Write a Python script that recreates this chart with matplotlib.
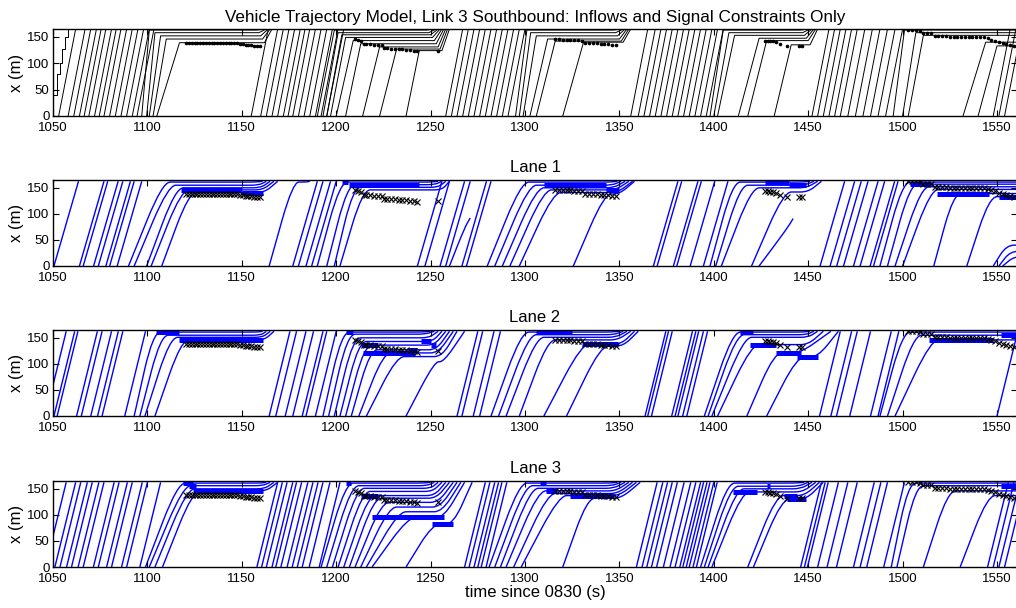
import numpy as np
import matplotlib
matplotlib.use("Agg")
import matplotlib.pyplot as plt
from matplotlib.path import Path
from matplotlib.patches import PathPatch
from matplotlib.collections import LineCollection

plt.rcParams['font.family'] = ['Liberation Sans', 'DejaVu Sans']

# ---------------- data ----------------
TITLE = "Vehicle Trajectory Model, Link 3 Southbound: Inflows and Signal Constraints Only"
LANE_TITLES = ["Lane 1", "Lane 2", "Lane 3"]
XTICKS = [1050, 1100, 1150, 1200, 1250, 1300, 1350, 1400, 1450, 1500, 1550]
YTICKS = [0, 50, 100, 150]

# shared observed queue positions (dots in top panel, x in lane panels)
MK_T = [1120.5, 1122, 1123.5, 1125, 1126.5, 1128, 1129.5, 1131, 1132.5, 1134, 1135.5, 1137, 1138.5,
        1140, 1141.5, 1143, 1144.5, 1146, 1147.5, 1149, 1150.5, 1152, 1153.5, 1155, 1156.5, 1158, 1159.5,
        1210, 1211.5, 1213, 1214.5, 1216, 1218, 1220, 1222, 1224, 1225.5, 1227, 1229, 1231, 1233, 1235,
        1237, 1239, 1241, 1243, 1253.7,
        1316, 1318, 1320, 1322, 1324, 1326, 1328, 1330, 1332, 1334, 1336, 1338, 1340, 1342, 1344, 1346, 1348,
        1427, 1428.5, 1430, 1431.5, 1433, 1435, 1438.6, 1445, 1446.5,
        1503, 1505, 1507, 1509, 1511, 1513, 1515, 1517, 1519, 1521, 1523, 1525, 1527, 1529, 1531, 1533,
        1535, 1537, 1539, 1541, 1543, 1545, 1547, 1549, 1551, 1553, 1555, 1557, 1559]
MK_X = [139, 139, 139, 139, 139, 139, 139, 139, 139, 139, 139, 139, 139,
        139, 139, 138.5, 138.5, 138, 138, 137, 136, 135, 135, 134, 133, 133, 132,
        146, 144, 142, 137, 136, 136, 135, 135, 134, 129, 129, 128, 128, 127, 127,
        126, 125, 124, 123, 124,
        146, 146, 145, 145, 145, 144, 144, 143, 139, 139, 138, 138, 137, 136, 136, 135, 135,
        143, 143, 142, 142, 140, 136, 132, 132, 132,
        164, 163, 163, 162, 158, 158, 157, 152, 151, 151, 151, 150, 150, 150, 150, 150,
        150, 150, 150, 149, 149, 147, 145, 143, 141, 139, 136, 134, 132]

# ---- top panel (all lanes) ----
TOP_FREE = [1053, 1058, 1061, 1064, 1066.5, 1069, 1072, 1074.5, 1077, 1080, 1083, 1086, 1089, 1092, 1094.5,
            1155, 1160, 1163, 1166, 1169, 1172, 1174.5, 1177, 1180, 1183, 1186, 1189, 1192, 1195,
            1258, 1261, 1264, 1267, 1270, 1273, 1276, 1279, 1282, 1285, 1288, 1291,
            1356, 1360, 1363, 1366, 1369, 1372, 1375, 1378, 1381, 1384, 1387, 1390, 1393, 1396,
            1452, 1455, 1458, 1461, 1464, 1467, 1471, 1475, 1479, 1483, 1487, 1491,
            1548, 1551, 1554]
TOP_FREE_DUR = 9
# queued trajectories: (enter time, arrive at queue, queue position, leave queue, exit time)
TOP_QUEUE = [(1097, 1101, 163, 1158, 1162), (1099.6, 1104, 158, 1159, 1163), (1101, 1107, 152, 1160, 1164),
             (1103, 1110, 146, 1161, 1165), (1105, 1117, 139, 1162, 1166),
             (1190, 1199, 163, 1248, 1252), (1193, 1201, 158, 1249, 1253), (1195, 1203, 154, 1250, 1254),
             (1197, 1205, 149, 1251, 1255), (1200, 1209, 143, 1252, 1256), (1205, 1213, 137, 1253, 1257),
             (1214, 1223, 131, 1254, 1258), (1223, 1232, 127, 1255, 1259), (1237, 1244, 124, 1256, 1260),
             (1295, 1301, 163, 1347, 1351), (1297, 1303, 158, 1348, 1352), (1299, 1306, 152, 1349, 1353),
             (1302.6, 1312, 146, 1350, 1354), (1306, 1316, 142, 1351, 1355), (1320, 1331, 140, 1352, 1356),
             (1398, 1405, 163, 1446, 1450), (1400, 1408, 158, 1447, 1451), (1402, 1411, 153, 1448, 1452),
             (1413, 1424, 147.5, 1449, 1453), (1418, 1428, 143, 1450, 1454), (1432, 1441, 135, 1451, 1455),
             (1495, 1501, 163, 1590, 1595), (1500, 1507, 158, 1590, 1595), (1503, 1511, 153, 1590, 1595),
             (1532, 1544, 140, 1590, 1595), (1540, 1550, 133, 1590, 1595)]
TOP_STAIR_T = [1050.2, 1050.2, 1052, 1052, 1053.5, 1053.5, 1055, 1055, 1056.5, 1056.5, 1058, 1058]
TOP_STAIR_X = [0, 40, 40, 80, 80, 100, 100, 128, 128, 150, 150, 165]

# ---- lane 1 ----
L1_FREE = [1050.5, 1064, 1066, 1071.5, 1074, 1078, 1080, 1084,
           1177, 1180, 1184, 1187,
           1243, 1247, 1255, 1258, 1266.6, 1269,
           1368, 1370, 1378.6, 1380.4, 1387.5, 1394.5,
           1456.3, 1461.6, 1465.1, 1468.7, 1474, 1477.5, 1482.8, 1484.6]
L1_DUR = 13
L1_QUEUE = [(1090, 1108, 161, 1157, 1161), (1093, 1111, 155, 1159, 1163), (1099.6, 1115, 150, 1160, 1165),
            (1102, 1118, 146, 1161, 1167), (1107.6, 1122, 141, 1162, 1169),
            (1164.5, 1177, 161, 1184, 1186),
            (1190, 1202, 161, 1250, 1254), (1195, 1206, 156, 1252, 1256), (1199, 1209, 151, 1254, 1258),
            (1202, 1214, 146, 1256, 1260),
            (1280, 1298, 161, 1345, 1349), (1284, 1302, 155, 1346, 1351), (1288, 1306, 150, 1347, 1353),
            (1292, 1310, 146, 1348, 1355), (1297, 1315, 141, 1349, 1357), (1325.6, 1342, 138, 1350, 1358),
            (1398, 1410, 161, 1447, 1451), (1401, 1414, 155, 1448, 1453), (1404, 1420, 150, 1449, 1455),
            (1420, 1437, 142, 1450, 1457),
            (1488, 1500, 161, 1590, 1595), (1492, 1504, 157, 1590, 1595), (1496, 1510, 152, 1590, 1595),
            (1500, 1515, 147, 1590, 1595), (1516.5, 1527, 139, 1590, 1595), (1534, 1546, 133, 1590, 1595),
            (1548, 1555, 40, 1590, 1595), (1551, 1557, 28, 1590, 1595), (1553, 1559, 18, 1590, 1595)]
L1_PART = [(1260, 1271, 92), (1424, 1442, 91)]
L1_STOP = [(1118, 1150, 146), (1150, 1161, 141), (1203, 1206, 161), (1207, 1244, 156),
           (1310, 1343, 155), (1343, 1350, 146), (1427, 1440, 161), (1440, 1449, 155),
           (1504, 1515, 157), (1518, 1546, 139), (1551, 1561, 133)]

# ---- lane 2 ----
L2_FREE = [1046, 1050.5, 1052.2, 1062.5, 1065, 1070, 1073.6, 1076, 1088,
           1164.5, 1168, 1173, 1177, 1182, 1184, 1189,
           1264, 1266.6, 1272.6, 1276,
           1363.6, 1365, 1367, 1377.7, 1379.5, 1381, 1383.5, 1385.7,
           1456, 1462, 1465, 1472, 1483, 1487, 1550]
L2_DUR = 11
L2_QUEUE = [(1093, 1103, 161, 1158, 1161), (1096, 1107, 155, 1160, 1163), (1098.7, 1112, 151, 1161, 1165),
            (1104, 1118, 146, 1162, 1167),
            (1193, 1203, 161, 1245, 1250), (1196, 1206, 157, 1247, 1252), (1199, 1209, 150, 1249, 1254),
            (1202, 1212, 143, 1251, 1256), (1205, 1215, 136, 1252, 1258), (1208, 1218, 127, 1253, 1260),
            (1212, 1225, 121, 1254, 1262), (1216, 1232, 114, 1256, 1264), (1237, 1252, 104, 1257, 1268),
            (1282, 1298, 161, 1345, 1350), (1286, 1302, 156, 1347, 1352), (1290, 1306, 151, 1348, 1354),
            (1297, 1312, 146, 1349, 1356), (1310, 1330, 138, 1351, 1358), (1322, 1340, 134, 1352, 1360),
            (1395, 1410, 161, 1447, 1451), (1397, 1412, 156, 1449, 1453), (1399, 1416, 151, 1450, 1455),
            (1402, 1420, 137, 1450, 1458), (1417.5, 1432, 121, 1446, 1462), (1428, 1444, 113, 1455, 1466),
            (1488, 1500, 161, 1590, 1595), (1492, 1506, 155, 1590, 1595), (1496, 1515, 146, 1590, 1595)]
L2_STOP = [(1104.5, 1117, 161), (1117, 1161, 146), (1205, 1209, 161), (1213, 1222, 136), (1214, 1242, 121),
           (1238, 1243, 127), (1245, 1250, 143), (1250, 1253, 136), (1306, 1325, 161), (1330, 1349, 138),
           (1414, 1421, 161), (1419, 1433, 137), (1433, 1446, 121), (1444, 1455, 113),
           (1514, 1548, 146), (1552, 1561, 155)]

# ---- lane 3 ----
L3_FREE = [1046, 1051, 1053.7, 1057.2, 1059.8, 1063.3, 1066, 1071.4, 1074, 1078.4, 1081, 1086.3, 1089, 1096,
           1158, 1160.5, 1163, 1166, 1168, 1170.7, 1174, 1176.7, 1179.4, 1182, 1185.7, 1191,
           1268, 1270.4, 1273, 1275, 1276.8, 1279.4,
           1359, 1362, 1364.5, 1367, 1369.7, 1373.3, 1376.8, 1379.5, 1382, 1383.6, 1385.4, 1387, 1389, 1390.8,
           1446, 1448, 1449.6, 1455, 1460, 1465, 1474, 1477.5, 1481, 1490,
           1545, 1548, 1551, 1554]
L3_DUR = 11
L3_QUEUE = [(1099, 1116, 161, 1160, 1163), (1101, 1119, 156, 1161, 1165), (1104, 1121, 150, 1162, 1167),
            (1108, 1124, 146, 1163, 1169),
            (1192, 1205, 161, 1246, 1250), (1195, 1208, 156, 1248, 1252), (1198, 1211, 151, 1250, 1254),
            (1201, 1214, 145, 1251, 1256), (1204, 1217, 137, 1252, 1258), (1207, 1220, 132, 1253, 1260),
            (1210, 1224, 124, 1254, 1262), (1213, 1228, 115, 1255, 1264), (1216, 1233, 106, 1256, 1266),
            (1219, 1238, 95, 1257, 1268), (1237, 1251, 82, 1262, 1272),
            (1281, 1297, 161, 1345, 1349), (1284, 1300, 156, 1346, 1351), (1287, 1303, 151, 1347, 1353),
            (1290, 1307, 146, 1348, 1355), (1294, 1312, 141, 1349, 1357), (1298, 1318, 137, 1350, 1359),
            (1320, 1333, 132, 1351, 1361),
            (1393, 1407, 161, 1443, 1448), (1395, 1409, 155, 1445, 1450), (1397, 1412, 150, 1446, 1452),
            (1399, 1415, 144, 1447, 1454), (1418, 1433, 137, 1448, 1456), (1421, 1436, 130, 1449, 1458),
            (1494, 1503, 161, 1590, 1595), (1497, 1507, 156, 1590, 1595), (1511, 1524, 146, 1590, 1595),
            (1530.5, 1545, 137, 1590, 1595)]
L3_STOP = [(1119, 1124, 161), (1122, 1126, 156), (1124, 1161, 146), (1205, 1208, 161), (1213, 1222, 137),
           (1219, 1257, 95), (1251, 1262, 82), (1308, 1311, 161), (1311, 1317, 146), (1324, 1347, 137),
           (1410, 1423, 144), (1428, 1430, 155), (1437, 1444, 137), (1439, 1449, 130), (1552, 1561, 156)]

LANES = [(L1_FREE, L1_DUR, L1_QUEUE, L1_PART, L1_STOP),
         (L2_FREE, L2_DUR, L2_QUEUE, [], L2_STOP),
         (L3_FREE, L3_DUR, L3_QUEUE, [], L3_STOP)]

# ---------------- drawing ----------------
XLIM = (1050, 1050 + 964 / 1.888)
YLIM = (0, 165)
TOP_END = 165
LANE_END = 162.5
BLUE = (0, 0, 1)

W, H = 1016, 608
fig = plt.figure(figsize=(W / 100, H / 100), dpi=100)
panel_px = [(29, 116), (180, 266), (330, 416), (481, 567)]
axes = []
for (t, b) in panel_px:
    ax = fig.add_axes([53 / W, 1 - b / H, 964 / W, (b - t) / H])
    axes.append(ax)


def smooth_path(pts, cap=4.0, frac=0.45):
    verts = [pts[0]]
    codes = [Path.MOVETO]
    for i in range(1, len(pts) - 1):
        p = np.array(pts[i], float)
        a = np.array(pts[i - 1], float)
        b = np.array(pts[i + 1], float)
        fa = frac if a[1] != p[1] else min(frac, cap / max(p[0] - a[0], 1e-6))
        fb = frac if b[1] != p[1] else min(frac, cap / max(b[0] - p[0], 1e-6))
        A = p + fa * (a - p)
        B = p + fb * (b - p)
        verts += [tuple(A), tuple(p), tuple(B)]
        codes += [Path.LINETO, Path.CURVE3, Path.CURVE3]
    verts.append(pts[-1])
    codes.append(Path.LINETO)
    return Path(verts, codes)


def style_axis(ax):
    ax.set_xlim(*XLIM)
    ax.set_ylim(*YLIM)
    ax.set_xticks(XTICKS)
    ax.set_yticks(YTICKS)
    ax.tick_params(direction='in', top=True, right=True, length=4, width=0.8,
                   labelsize=9.5)
    ax.tick_params(axis='x', pad=4)
    ax.tick_params(axis='y', pad=2.5)
    for s in ax.spines.values():
        s.set_linewidth(1.0)
    ax.set_ylabel("x (m)", fontsize=12, labelpad=2)


# top panel
ax = axes[0]
segs = [[(t, 0), (t + TOP_FREE_DUR, TOP_END)] for t in TOP_FREE]
ax.add_collection(LineCollection(segs, colors='black', linewidths=0.7))
for (t0, t1, xq, t2, t3) in TOP_QUEUE:
    ax.plot([t0, t1, t2, t3], [0, xq, xq, TOP_END], color='black', lw=0.7)
ax.plot(TOP_STAIR_T, TOP_STAIR_X, color='black', lw=0.7)
ax.plot(MK_T, MK_X, linestyle='none', marker='o', markersize=1.6, color='black')
style_axis(ax)
ax.set_title(TITLE, fontsize=12.3, pad=5)

# lane panels
for k, (free, dur, queue, parts, stops) in enumerate(LANES):
    ax = axes[k + 1]
    segs = [[(t, 0), (t + dur, LANE_END)] for t in free]
    ax.add_collection(LineCollection(segs, colors=[BLUE], linewidths=1.0))
    for (t0, t1, xq, t2, t3) in queue:
        path = smooth_path([(t0, 0), (t1, xq), (t2, xq), (t3, LANE_END)])
        ax.add_patch(PathPatch(path, fill=False, edgecolor=BLUE, lw=1.0))
    for (t0, t1, x1) in parts:
        path = smooth_path([(t0, 0), (t1 - 3, x1 * 0.8), (t1, x1)], frac=0.5)
        ax.add_patch(PathPatch(path, fill=False, edgecolor=BLUE, lw=1.0))
    for (ta, tb, xs) in stops:
        ax.plot([ta, tb], [xs, xs], color=BLUE, lw=3.6, solid_capstyle='butt')
    ax.plot(MK_T, MK_X, linestyle='none', marker='x', markersize=4.5, mew=0.8, color='black')
    style_axis(ax)
    ax.set_title(LANE_TITLES[k], fontsize=12, pad=6)

axes[-1].set_xlabel("time since 0830 (s)", fontsize=12, labelpad=0)

fig.savefig("out.png", dpi=100)
